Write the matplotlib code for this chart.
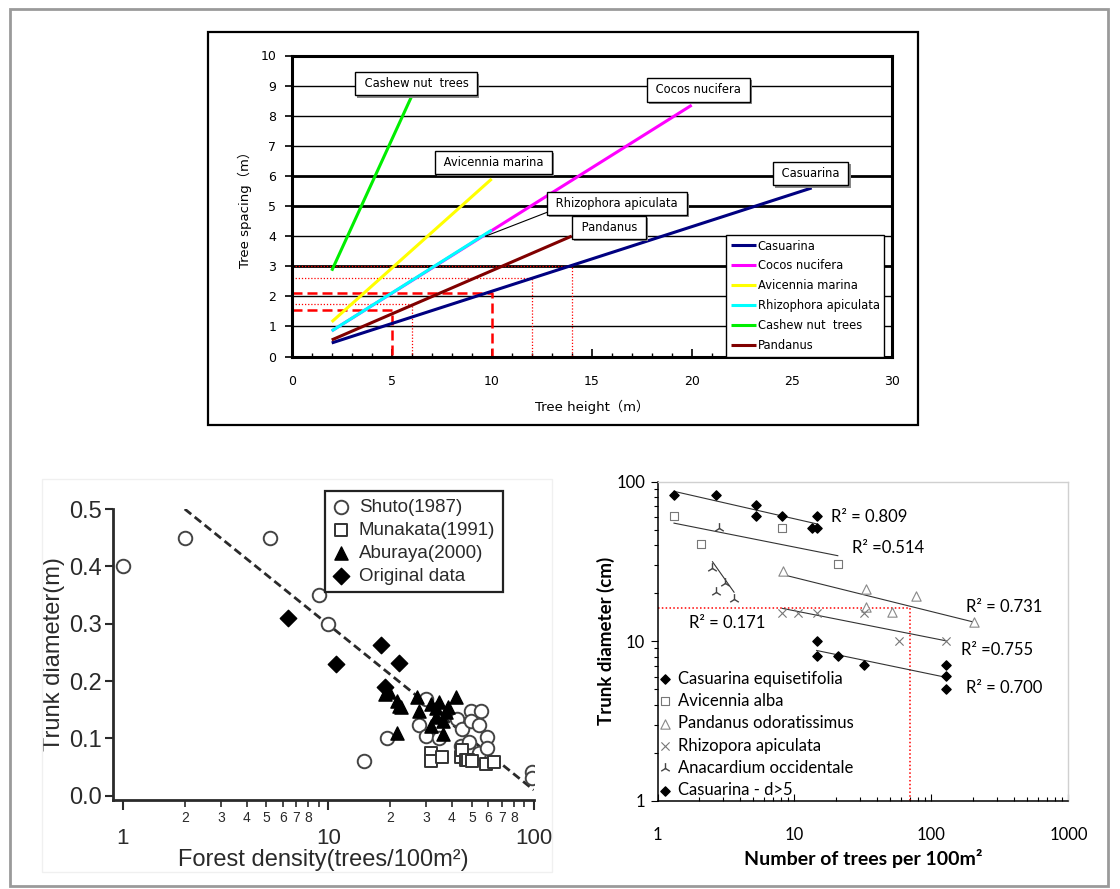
import numpy as np
import matplotlib
matplotlib.use('Agg')
import matplotlib.pyplot as plt
from matplotlib.patches import Rectangle
from matplotlib.ticker import FixedLocator, FuncFormatter, NullFormatter
import matplotlib.patheffects as pe

W, H = 1120, 889

# ---------------- top chart: tree spacing vs tree height ----------------
top_species = ['Casuarina', 'Cocos nucifera', 'Avicennia marina',
               'Rhizophora apiculata', 'Cashew nut  trees', 'Pandanus']
top_colors = ['#000080', '#ff00ff', '#ffff00', '#00ffff', '#00ee00', '#800000']
height_from = [2, 2, 2, 2, 2, 2]
height_to = [26, 20, 10, 10, 6, 14]
spacing_from = [0.45, 0.85, 1.15, 0.85, 2.85, 0.55]
spacing_to = [5.6, 8.35, 5.9, 4.2, 8.65, 4.0]

# red reading guides
dashed_height = [10, 5]
dashed_spacing = [2.1, 1.55]
dotted_height = [14, 12, 6]
dotted_spacing = [3.02, 2.6, 1.74]

# ---------------- bottom left: trunk diameter vs forest density ----------------
shuto_density = [1, 2, 5.2, 9, 10, 15, 19.4, 27.7, 30, 30, 34.7, 42.4, 45, 44.3,
                 48.6, 49.5, 49.5, 54, 55.4, 54, 59, 59, 98, 98]
shuto_diam = [0.40, 0.45, 0.45, 0.35, 0.30, 0.06, 0.10, 0.123, 0.168, 0.104, 0.10,
              0.133, 0.116, 0.086, 0.093, 0.147, 0.13, 0.123, 0.147, 0.075, 0.103,
              0.084, 0.042, 0.031]
munakata_density = [31.7, 31.7, 35.8, 44.3, 45, 47, 48, 50, 58.5, 64]
munakata_diam = [0.075, 0.06, 0.068, 0.068, 0.08, 0.063, 0.062, 0.061, 0.056, 0.058]
aburaya_density = [18.8, 19.8, 21.5, 22.2, 22.7, 21.7, 27.1, 27.7, 31.7, 34.7,
                   33.4, 31.7, 37.6, 36, 41.8, 36, 38.3, 33.4]
aburaya_diam = [0.177, 0.18, 0.165, 0.157, 0.154, 0.11, 0.172, 0.147, 0.16, 0.163,
                0.137, 0.121, 0.146, 0.13, 0.172, 0.107, 0.155, 0.153]
original_density = [6.4, 10.9, 18.1, 22.1, 18.8]
original_diam = [0.31, 0.23, 0.262, 0.231, 0.19]
fit_density = [2, 100]
fit_diam = [0.5, 0.01]

# ---------------- bottom right: log-log by species ----------------
cas_n = [1.32, 2.68, 5.2, 5.2, 8.15, 13.5, 14.6, 14.6]
cas_d = [82.5, 82.5, 71.4, 61.2, 61.2, 51, 51, 61.2]
avi_n = [1.32, 2.07, 8.15, 20.7]
avi_d = [61.2, 40.7, 51, 30.5]
pan_n = [8.28, 33, 33.5, 51.6, 77.6, 203]
pan_d = [27.5, 21.1, 16.5, 15.3, 19.3, 13.1]
rhi_n = [8.15, 10.6, 14.6, 32.4, 57.7, 128]
rhi_d = [15.1, 15.1, 15.1, 15.1, 10.07, 10.07]
ana_n = [2.52, 2.66, 2.81, 3.11, 3.62]
ana_d = [28.6, 20.4, 51, 23.3, 18.3]
cas5_n = [14.5, 14.5, 20.7, 32.4, 128, 128, 128]
cas5_d = [10.07, 8.07, 8.07, 7.05, 7.05, 6.05, 5.04]
r2_text = ['R² = 0.809', 'R² =0.514', 'R² = 0.171', 'R² = 0.731', 'R² =0.755', 'R² = 0.700']
r2_x = [18.4, 26.2, 1.71, 180, 164, 180]
r2_y = [60.3, 38.2, 13.06, 16.4, 8.8, 5.11]
guide_n = 70
guide_d = 16.1


def frac(x0, y0, x1, y1):
    return [x0 / W, 1 - y1 / H, (x1 - x0) / W, (y1 - y0) / H]


plt.rcParams['font.family'] = ['Liberation Sans', 'DejaVu Sans']
fig = plt.figure(figsize=(W / 100, H / 100), dpi=100)

# outer border and top frame
fig.add_artist(Rectangle((10 / W, 1 - 886 / H), 1098 / W, 877 / H, transform=fig.transFigure,
                         fill=False, ec='#9a9a9a', lw=2))
fig.add_artist(Rectangle((208 / W, 1 - 425 / H), 710 / W, 393 / H, transform=fig.transFigure,
                         fill=False, ec='black', lw=1.6))

# ================= top chart =================
jp = ['DejaVu Sans', 'Noto Sans CJK JP']
ax1 = fig.add_axes(frac(291.7, 55.5, 891.7, 356.5))
ax1.set_xlim(0, 30)
ax1.set_ylim(0, 10)
for s in ax1.spines.values():
    s.set_linewidth(2.2)
for yv in range(1, 10):
    ax1.axhline(yv, color='black', lw=2.0 if yv in (3, 5, 6) else 1.0, zorder=1)

ax1.set_xticks(range(0, 31, 5))
ax1.set_xticks(range(0, 31), minor=True)
ax1.set_yticks(range(0, 11))
ax1.tick_params(axis='x', which='major', direction='in', length=6, width=1.2, pad=13, labelsize=9)
ax1.tick_params(axis='x', which='minor', direction='in', length=3, width=1)
ax1.tick_params(axis='y', direction='out', length=5, width=1.2, pad=6, labelsize=9)
for t in ax1.get_xticklabels() + ax1.get_yticklabels():
    t.set_family(jp)

# guides
for h, s in zip(dashed_height, dashed_spacing):
    ax1.plot([0, h, h], [s, s, 0], color='red', lw=1.8, ls=(0, (4, 2)), zorder=2)
for h, s in zip(dotted_height, dotted_spacing):
    ax1.plot([0, h, h], [s, s, 0], color='red', lw=0.9, ls=(0, (1, 1.5)), zorder=2)

draw_order = [1, 0, 2, 3, 4, 5]
lines = {}
for i in draw_order:
    ln, = ax1.plot([height_from[i], height_to[i]], [spacing_from[i], spacing_to[i]],
                   color=top_colors[i], lw=2.2, label=top_species[i], zorder=3,
                   solid_capstyle='butt')
    lines[i] = ln

leg1 = ax1.legend([lines[i] for i in range(6)], top_species, loc='upper left',
                  bbox_to_anchor=(0.724, 0.404), borderaxespad=0, fancybox=False,
                  edgecolor='black', framealpha=1, handlelength=2.2, handletextpad=0.15,
                  labelspacing=0.6, borderpad=0.4, prop={'family': jp, 'size': 8.3})
leg1.get_frame().set_linewidth(1.0)

callouts = [('Cashew nut  trees', 6.23, 9.06), ('Cocos nucifera', 20.32, 8.86),
            ('Avicennia marina', 10.08, 6.44), ('Rhizophora apiculata', 16.25, 5.08),
            ('Pandanus', 15.87, 4.28), ('Casuarina', 25.95, 6.07)]
for txt, cx, cy in callouts:
    t = ax1.text(cx, cy, ' ' + txt + ' ', ha='center', va='center', fontsize=8.3, family=jp,
                 zorder=6, bbox=dict(boxstyle='square,pad=0.45', fc='white', ec='black', lw=1))
    t.get_bbox_patch().set_path_effects([pe.withSimplePatchShadow(offset=(1.5, -1.5),
                                         shadow_rgbFace='#888888', alpha=1)])
ax1.plot([9.7, 13.0], [4.0, 4.85], color='black', lw=0.8, zorder=5)

ax1.set_xlabel('Tree height（m）', family=jp, fontsize=9.5, labelpad=9)
ax1.set_ylabel('Tree spacing（m）', family=jp, fontsize=9.5, labelpad=6)

# ================= bottom left chart =================
fig.add_artist(Rectangle((42 / W, 1 - 872 / H), 510 / W, 393 / H, transform=fig.transFigure,
                         fill=False, ec='#f0f0f0', lw=1))
gray = '#2a2a2a'
ax2 = fig.add_axes(frac(113, 509, 533.7, 800))
ax2.set_xscale('log')
ax2.set_xlim(0.895, 100)
ax2.set_ylim(-0.0075, 0.5)
for side in ('top', 'right'):
    ax2.spines[side].set_visible(False)
for side in ('left', 'bottom'):
    ax2.spines[side].set_linewidth(2)
    ax2.spines[side].set_color(gray)

ax2.plot(fit_density, fit_diam, color=gray, lw=2, ls=(0, (3, 1.6)), zorder=2)
ax2.scatter(shuto_density, shuto_diam, s=95, marker='o', facecolors='white',
            edgecolors='#444444', linewidths=1.4, zorder=3, label='Shuto(1987)')
ax2.scatter(munakata_density, munakata_diam, s=75, marker='s', facecolors='white',
            edgecolors='#333333', linewidths=1.4, zorder=3, label='Munakata(1991)')
ax2.scatter(aburaya_density, aburaya_diam, s=90, marker='^', color='black',
            zorder=4, label='Aburaya(2000)')
ax2.scatter(original_density, original_diam, s=70, marker='D', color='black',
            zorder=4, label='Original data')

ax2.xaxis.set_major_locator(FixedLocator([1, 10, 100]))
ax2.xaxis.set_major_formatter(FuncFormatter(lambda v, p: '%d' % v))
minor_pos = [k * 10 ** d for d in (0, 1) for k in range(2, 10)]
ax2.xaxis.set_minor_locator(FixedLocator(minor_pos))
ax2.xaxis.set_minor_formatter(FuncFormatter(
    lambda v, p: '' if round(v / 10 ** np.floor(np.log10(v) + 1e-9)) == 9
    else '%d' % round(v / 10 ** np.floor(np.log10(v) + 1e-9))))
ax2.tick_params(axis='x', which='major', direction='out', length=7, width=1.5,
                labelsize=16, pad=13, colors=gray)
ax2.tick_params(axis='x', which='minor', direction='out', length=5, width=1.2,
                labelsize=10, pad=3, colors=gray)
ax2.set_yticks([0.0, 0.1, 0.2, 0.3, 0.4, 0.5])
ax2.yaxis.set_major_formatter(FuncFormatter(lambda v, p: '%.1f' % v))
ax2.tick_params(axis='y', direction='out', length=6, width=1.5, labelsize=17, pad=2,
                colors=gray)
ax2.set_xlabel('Forest density(trees/100m²)', fontsize=17, color=gray, labelpad=0)
ax2.set_ylabel('Trunk diameter(m)', fontsize=17, color=gray, labelpad=3)
leg2 = ax2.legend(loc='upper left', bbox_to_anchor=(0.504, 1.062), borderaxespad=0,
                  fancybox=False, edgecolor='#222222', framealpha=1, fontsize=13.5,
                  handlelength=0.9, handletextpad=0.5, labelspacing=0.32, borderpad=0.4,
                  scatterpoints=1)
leg2.get_frame().set_linewidth(1.6)
for t in leg2.get_texts():
    t.set_color(gray)

# ================= bottom right chart =================
sans = ['Lato', 'DejaVu Sans']
ax3 = fig.add_axes(frac(657.5, 481.7, 1068.5, 800.7))
ax3.set_xscale('log')
ax3.set_yscale('log')
ax3.set_xlim(1, 1000)
ax3.set_ylim(1, 100)
for side in ('top', 'right'):
    ax3.spines[side].set_color('#d0d0d0')
    ax3.spines[side].set_linewidth(1)
for side in ('left', 'bottom'):
    ax3.spines[side].set_color('black')
    ax3.spines[side].set_linewidth(1.1)

ax3.plot([1, guide_n, guide_n], [guide_d, guide_d, 1], color='red', lw=1.1,
         ls=(0, (1, 1.5)), zorder=2)

groups = [
    (cas_n, cas_d, dict(marker='D', s=22, color='black'), 'Casuarina equisetifolia'),
    (avi_n, avi_d, dict(marker='s', s=40, facecolors='white', edgecolors='#777777', linewidths=0.8), 'Avicennia alba'),
    (pan_n, pan_d, dict(marker='^', s=45, facecolors='white', edgecolors='#888888', linewidths=0.8), 'Pandanus odoratissimus'),
    (rhi_n, rhi_d, dict(marker='x', s=35, color='#777777', linewidths=0.8), 'Rhizopora apiculata'),
    (ana_n, ana_d, dict(marker='2', s=60, color='#444444', linewidths=1.0), 'Anacardium occidentale'),
    (cas5_n, cas5_d, dict(marker='D', s=22, color='black'), 'Casuarina - d>5'),
]
for n, d, kw, lab in groups:
    ax3.scatter(n, d, zorder=4, label=lab, **kw)
    b, a = np.polyfit(np.log10(n), np.log10(d), 1)
    xs = np.array([min(n), max(n)])
    ax3.plot(xs, 10 ** (a + b * np.log10(xs)), color='#333333', lw=0.8, zorder=3)

for txt, x, y in zip(r2_text, r2_x, r2_y):
    ax3.text(x, y, txt, fontsize=12, family=sans, ha='left', va='center')

ax3.xaxis.set_major_formatter(FuncFormatter(lambda v, p: '%d' % v))
ax3.yaxis.set_major_formatter(FuncFormatter(lambda v, p: '%d' % v))
ax3.xaxis.set_minor_formatter(NullFormatter())
ax3.yaxis.set_minor_formatter(NullFormatter())
ax3.tick_params(axis='x', which='both', direction='in', width=0.8, labelsize=12, pad=19)
ax3.tick_params(axis='x', which='major', length=5)
ax3.tick_params(axis='x', which='minor', length=3)
ax3.tick_params(axis='y', which='both', direction='out', width=0.8, labelsize=12, pad=4)
ax3.tick_params(axis='y', which='major', length=5)
ax3.tick_params(axis='y', which='minor', length=3)
for t in ax3.get_xticklabels() + ax3.get_yticklabels():
    t.set_family(sans)
ax3.set_xlabel('Number of trees per 100m²', fontsize=14, fontweight='bold', family=sans,
               labelpad=4)
ax3.set_ylabel('Trunk diameter (cm)', fontsize=13.5, fontweight='bold', family=sans,
               labelpad=1)
leg3 = ax3.legend(loc='lower left', bbox_to_anchor=(0.0, 0.0), borderaxespad=0,
                  frameon=False, prop={'family': sans, 'size': 12}, handlelength=0.6,
                  handletextpad=0.45, labelspacing=0.38, borderpad=0.15, scatterpoints=1)

fig.savefig('out.png', dpi=100)
